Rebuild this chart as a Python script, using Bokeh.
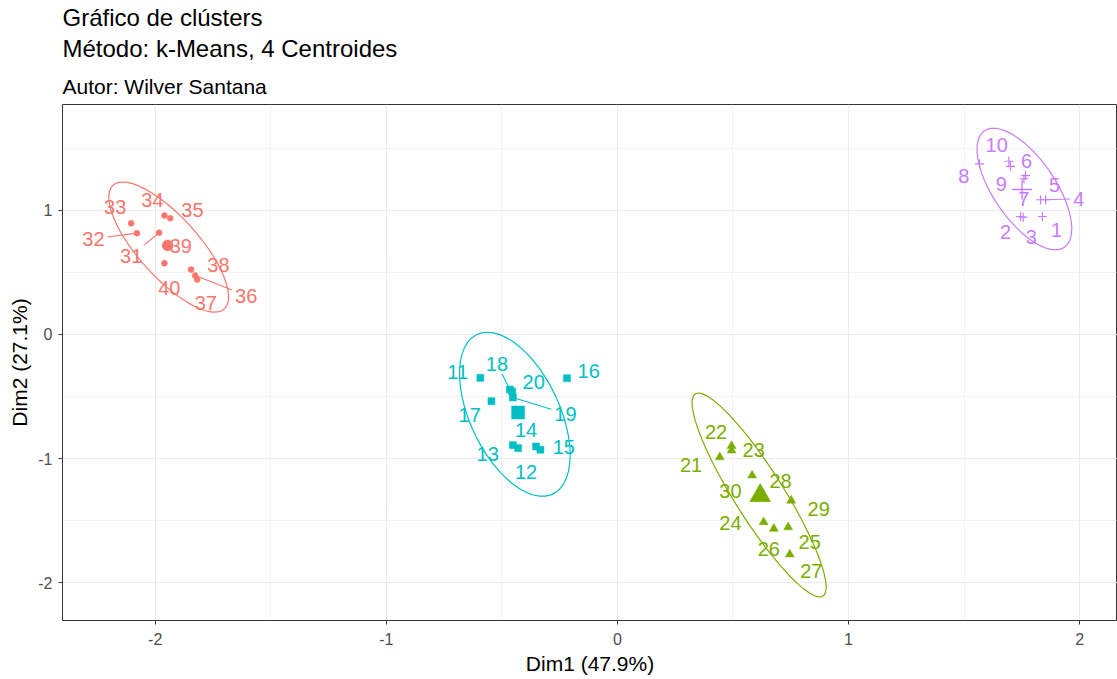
import numpy as np
from bokeh.plotting import figure
from bokeh.models import Title, FixedTicker
from bokeh.core.properties import value
from bokeh.embed import file_html
from bokeh.resources import INLINE

# ---------------- data ----------------
point_ids = list(range(1, 41))
cluster = [4] * 10 + [3] * 10 + [2] * 10 + [1] * 10

dim1 = [1.839, 1.745, 1.756, 1.853, 1.831, 1.766, 1.759, 1.567, 1.701, 1.694,
        -0.593, -0.430, -0.452, -0.352, -0.333, -0.218, -0.545, -0.465, -0.452, -0.455,
        0.443, 0.494, 0.494, 0.633, 0.739, 0.677, 0.746, 0.583, 0.752, 0.619,
        -1.983, -2.079, -2.104, -1.960, -1.935, -1.827, -1.818, -1.845, -1.949, -1.960]
dim2 = [0.950, 0.950, 0.944, 1.085, 1.085, 1.280, 1.254, 1.374, 1.353, 1.395,
        -0.349, -0.915, -0.891, -0.902, -0.928, -0.352, -0.537, -0.443, -0.507, -0.459,
        -0.988, -0.898, -0.934, -1.511, -1.552, -1.564, -1.771, -1.135, -1.337, -1.280,
        0.819, 0.816, 0.896, 0.958, 0.936, 0.475, 0.443, 0.523, 0.733, 0.574]

# repelled label positions (data units)
label_dim1 = [1.900, 1.680, 1.791, 1.997, 1.892, 1.771, 1.759, 1.499, 1.661, 1.641,
              -0.691, -0.395, -0.561, -0.395, -0.232, -0.124, -0.639, -0.521, -0.225, -0.362,
              0.319, 0.427, 0.590, 0.489, 0.832, 0.655, 0.839, 0.706, 0.871, 0.489,
              -2.104, -2.267, -2.173, -2.012, -1.839, -1.606, -1.781, -1.726, -1.889, -1.939]
label_dim2 = [0.843, 0.829, 0.783, 1.093, 1.200, 1.395, 1.093, 1.280, 1.213, 1.522,
              -0.304, -1.109, -0.961, -0.767, -0.907, -0.290, -0.652, -0.236, -0.638, -0.384,
              -1.047, -0.787, -0.928, -1.519, -1.672, -1.725, -1.908, -1.176, -1.403, -1.264,
              0.636, 0.771, 1.025, 1.079, 1.004, 0.314, 0.252, 0.556, 0.709, 0.376]
leader_ids = [4, 18, 19, 31, 32, 36]

cluster_ids = [1, 2, 3, 4]
cluster_colors = ["#F8766D", "#7CAE00", "#00BFC4", "#C77CFF"]
cluster_markers = ["circle", "triangle", "square", "cross"]

x_ticks = [-2, -1, 0, 1, 2]
y_ticks = [-2, -1, 0, 1]
x_title = "Dim1 (47.9%)"
y_title = "Dim2 (27.1%)"
title_1 = "Gráfico de clústers"
title_2 = "Método: k-Means, 4 Centroides"
subtitle = "Autor: Wilver Santana"

# ---------------- layout ----------------
X0, X1 = -2.401, 2.164
Y0, Y1 = -2.303, 1.852
FW, FH = 1055, 516
FONT = "Liberation Sans"
LABEL_FS = 20

p = figure(x_range=(X0, X1), y_range=(Y0, Y1), frame_width=FW, frame_height=FH,
           output_backend="svg", toolbar_location=None, title_location=None,
           min_border_left=62, min_border_right=0, min_border_top=104, min_border_bottom=0,
           background_fill_color="white", border_fill_color="white")

for txt, fs, so in [(subtitle, "21px", 14), (title_2, "24px", 8), (title_1, "24px", -4)]:
    p.add_layout(Title(text=txt, text_font_size=fs, text_font=FONT, text_font_style="normal",
                       text_color="black", align="left", standoff=so), "above")

def half_steps(ticks, lo, hi):
    vals = [t + 0.5 for t in ticks] + [ticks[0] - 0.5]
    return sorted(v for v in vals if lo < v < hi)

p.xaxis.ticker = FixedTicker(ticks=x_ticks, minor_ticks=half_steps(x_ticks, X0, X1))
p.yaxis.ticker = FixedTicker(ticks=y_ticks, minor_ticks=half_steps(y_ticks, Y0, Y1))
p.xaxis.major_label_overrides = {t: str(t) for t in x_ticks}
p.yaxis.major_label_overrides = {t: str(t) for t in y_ticks}
p.xaxis.axis_label = x_title
p.yaxis.axis_label = y_title
for ax in (p.xaxis, p.yaxis):
    ax.axis_line_color = None
    ax.major_tick_line_color = "#333333"
    ax.major_tick_out = 4
    ax.major_tick_in = 0
    ax.minor_tick_line_color = None
    ax.major_label_text_font = FONT
    ax.major_label_text_font_size = "16px"
    ax.major_label_text_color = "#4D4D4D"
    ax.axis_label_text_font = FONT
    ax.axis_label_text_font_size = "21px"
    ax.axis_label_text_font_style = "normal"
    ax.axis_label_text_color = "black"
p.xaxis.major_label_standoff = 8
p.xaxis.axis_label_standoff = 4
p.yaxis.major_label_standoff = 6
p.yaxis.axis_label_standoff = 4

p.grid.grid_line_color = "#EBEBEB"
p.grid.grid_line_width = 1.1
p.grid.minor_grid_line_color = "#EBEBEB"
p.grid.minor_grid_line_width = 0.6
p.outline_line_color = "#333333"
p.outline_line_width = 1

d1 = np.array(dim1)
d2 = np.array(dim2)
cl = np.array(cluster)

def cov_trob(x, nu=5, maxit=25, tol=0.01):
    """Robust multivariate-t location/scatter (as MASS::cov.trob)."""
    n, k = x.shape
    wt = np.ones(n)
    loc = x.mean(axis=0)
    w = np.sqrt(wt)
    X = x - loc
    for _ in range(maxit):
        w0 = w
        X = x - loc
        A = np.sqrt(w / w.sum())[:, None] * X
        _, d, Vt = np.linalg.svd(A, full_matrices=False)
        wX = X @ Vt.T @ np.diag(1.0 / d)
        Q = (wX ** 2).sum(axis=1)
        w = wt * (nu + k) / (nu + Q)
        loc = (w[:, None] * x).sum(axis=0) / w.sum()
        if np.all(np.abs(w - w0) < tol):
            break
    sw = np.sqrt(w)[:, None] * X
    return loc, sw.T @ sw / wt.sum()

def t_ellipse(xs, ys, level=0.95, segments=51):
    data = np.column_stack([xs, ys])
    m = len(data) - 1
    center, shape = cov_trob(data)
    fq = (m / 2.0) * ((1 - level) ** (-2.0 / m) - 1)   # qf(level, 2, m)
    radius = np.sqrt(2 * fq)
    ang = np.linspace(0, 2 * np.pi, segments + 1)
    circ = np.column_stack([np.cos(ang), np.sin(ang)])
    R = np.linalg.cholesky(shape).T
    pts = center + radius * (circ @ R)
    return pts[:, 0], pts[:, 1]

# ellipses
for cid, col in zip(cluster_ids, cluster_colors):
    m = cl == cid
    ex, ey = t_ellipse(d1[m], d2[m])
    p.line(ex, ey, line_color=col, line_width=1.2)

# points and centroids
small = {"circle": 6, "triangle": 9, "square": 7, "cross": 9}
big = {"circle": 11, "triangle": 21, "square": 13, "cross": 20}
for cid, col, mk in zip(cluster_ids, cluster_colors, cluster_markers):
    m = cl == cid
    p.scatter(d1[m], d2[m], marker=mk, size=small[mk], fill_color=col, line_color=col,
              line_width=1.2 if mk == "cross" else 0.5)
    p.scatter([d1[m].mean()], [d2[m].mean()], marker=mk, size=big[mk], fill_color=col,
              line_color=col, line_width=1.4 if mk == "cross" else 0.5)

# leader segments
sx = FW / (X1 - X0)
sy = FH / (Y1 - Y0)
col_of = {c: k for c, k in zip(cluster_ids, cluster_colors)}
for pid in leader_ids:
    i = point_ids.index(pid)
    px, py = dim1[i], dim2[i]
    lx, ly = label_dim1[i], label_dim2[i]
    dxp = (px - lx) * sx
    dyp = (py - ly) * sy
    hw = len(str(pid)) * 0.556 * LABEL_FS / 2 + 3
    hh = 0.716 * LABEL_FS / 2 + 3
    t = min(hw / abs(dxp) if dxp else 1e9, hh / abs(dyp) if dyp else 1e9)
    ex, ey = lx + t * (px - lx), ly + t * (py - ly)
    p.segment(x0=[px], y0=[py], x1=[ex], y1=[ey], line_color=col_of[cluster[i]], line_width=1.1)

# labels
p.text(x=label_dim1, y=label_dim2, text=[str(i) for i in point_ids],
       text_color=[col_of[c] for c in cluster], text_font=value(FONT),
       text_font_size=f"{LABEL_FS}px", text_align="center", text_baseline="middle")

open("out.html", "w").write(file_html(p, INLINE))
